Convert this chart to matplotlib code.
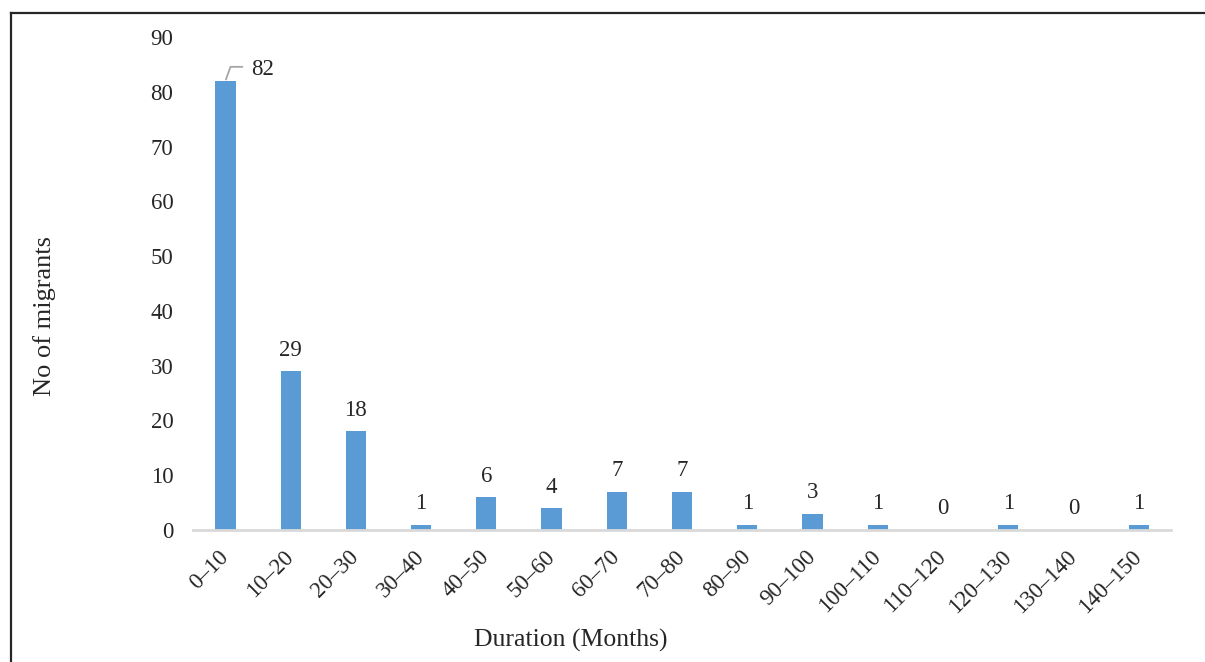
import matplotlib.pyplot as plt
from matplotlib.lines import Line2D
import numpy as np

plt.rcParams['font.family'] = ['Liberation Serif', 'DejaVu Serif']

durations = ['0–10', '10–20', '20–30', '30–40', '40–50', '50–60', '60–70', '70–80',
             '80–90', '90–100', '100–110', '110–120', '120–130', '130–140', '140–150']
migrants = [82, 29, 18, 1, 6, 4, 7, 7, 1, 3, 1, 0, 1, 0, 1]

fig = plt.figure(figsize=(12.05, 6.62), dpi=100)
ax = fig.add_axes([0.160, 0.1994, 0.812, 0.7447])

x = np.arange(len(durations))
ax.bar(x, migrants, width=0.31, color='#5b9bd5')

ax.set_xlim(-0.5, len(durations) - 0.5)
ax.set_ylim(0, 90)
ax.set_yticks(np.arange(0, 91, 10))
ax.set_xticks(x)
ax.set_xticklabels(durations, rotation=45, ha='right', va='center',
                   rotation_mode='anchor', fontsize=16.5, color='#262626')
ax.tick_params(axis='y', length=0, pad=14, labelsize=16.5, labelcolor='#262626')
ax.tick_params(axis='x', length=0, pad=17)

for side in ['top', 'right', 'left']:
    ax.spines[side].set_visible(False)
ax.spines['bottom'].set_color('#d9d9d9')
ax.spines['bottom'].set_linewidth(2)

# value labels; the tallest bar gets a leader line
for xi, v in zip(x, migrants):
    if xi == 0:
        ax.annotate('', xy=(xi, v), xytext=(17, 14), textcoords='offset pixels',
                    arrowprops=dict(arrowstyle='-', color='#a6a6a6', lw=1.3,
                                    connectionstyle='angle,angleA=0,angleB=70,rad=0',
                                    shrinkA=0, shrinkB=1))
        ax.annotate(str(v), xy=(xi, v), xytext=(26, 11), textcoords='offset pixels',
                    ha='left', va='center', fontsize=16.5, color='#262626')
    else:
        ax.annotate(str(v), xy=(xi, v), xytext=(0, 21), textcoords='offset pixels',
                    ha='center', va='center', fontsize=16.5, color='#262626')

fig.text(0.474, 0.033, 'Duration (Months)', ha='center', va='center',
         fontsize=18.5, color='#262626')
fig.text(0.037, 0.522, 'No of migrants', ha='center', va='center', rotation=90,
         fontsize=19, color='#262626')

# frame edges along the left and top
fig.add_artist(Line2D([0.0095, 0.0095], [0, 0.981], color='#262626', lw=1.6))
fig.add_artist(Line2D([0.0095, 1.0], [0.981, 0.981], color='#262626', lw=1.6))

fig.savefig('out.png', dpi=100)
